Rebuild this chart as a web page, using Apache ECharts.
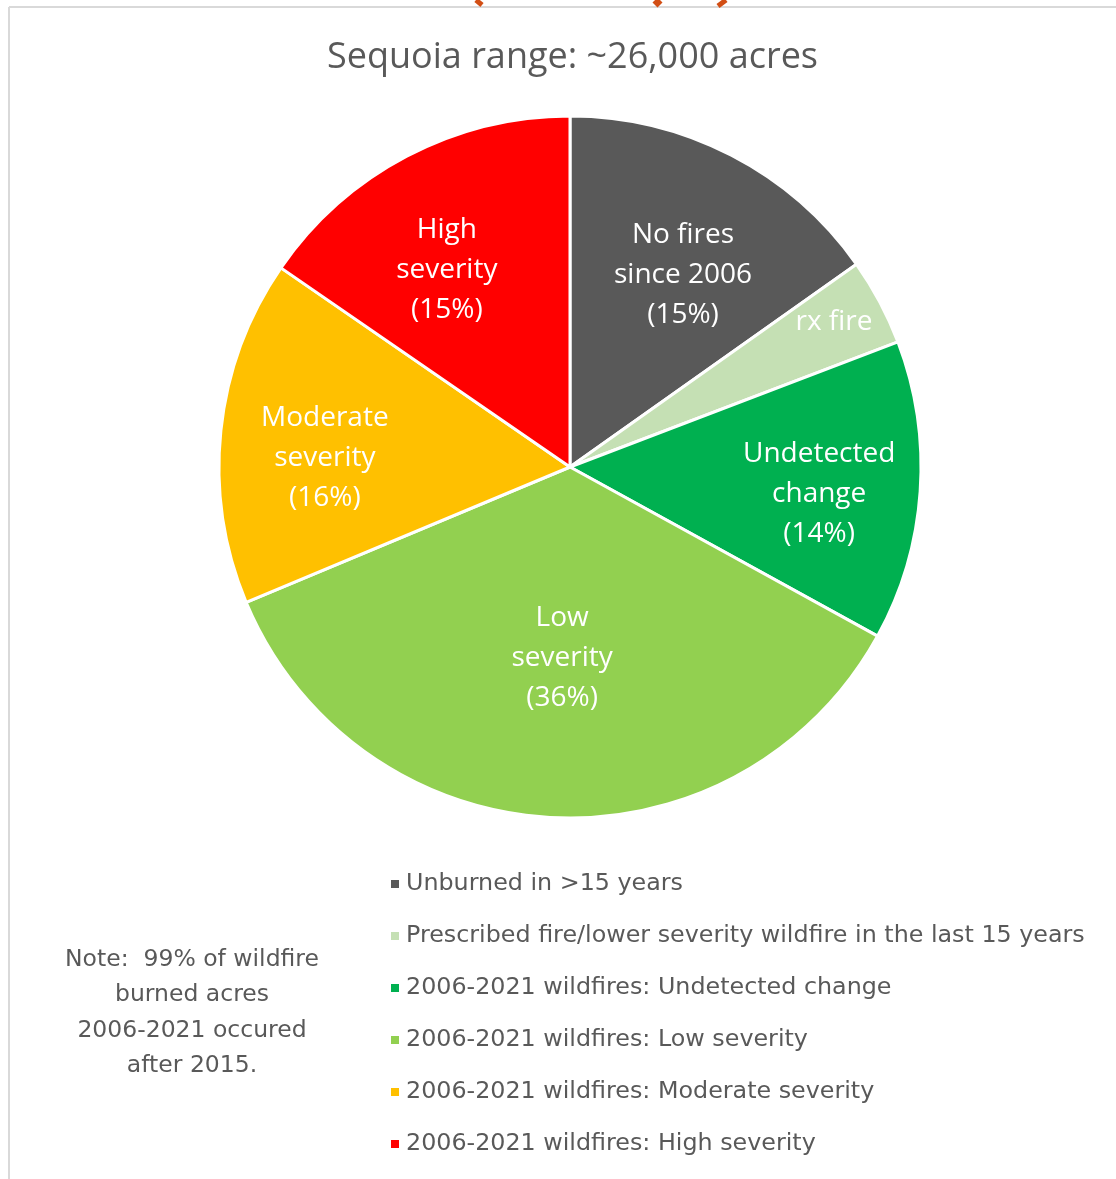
<!DOCTYPE html>
<html><head><meta charset="utf-8">
<script src="https://cdn.jsdelivr.net/npm/echarts@6/dist/echarts.min.js"></script>
<style>html,body{margin:0;padding:0;background:#fff}#c{width:1116px;height:1179px}</style>
</head><body><div id="c"></div>
<script>
// ---- data ----
const categories = [
  'Unburned in >15 years',
  'Prescribed fire/lower severity wildfire in the last 15 years',
  '2006-2021 wildfires: Undetected change',
  '2006-2021 wildfires: Low severity',
  '2006-2021 wildfires: Moderate severity',
  '2006-2021 wildfires: High severity'
];
const sliceLabels = ['No fires\nsince 2006', 'rx fire', 'Undetected\nchange', 'Low\nseverity', 'Moderate\nseverity', 'High\nseverity'];
const showPercent = [true, false, true, true, true, true];
const values = [15.2, 4.0, 13.8, 35.7, 15.9, 15.4];
const titleText = 'Sequoia range: ~26,000 acres';
const noteText = 'Note:  99% of wildfire\nburned acres\n2006-2021 occured\nafter 2015.';

// ---- styles ----
const colors = ['#595959', '#c5e0b4', '#00b050', '#92d050', '#ffc000', '#ff0000'];
const labelRadiusFactor = [0.635, 0.858, 0.714, 0.545, 0.699, 0.662];
const labelAngleShiftDeg = [3.1, -0.7, 2.2, -0.7, -3.8, -4.3];
const CX = 570, CY = 467, R = 351;
const FONT = '"Open Sans", Lato, sans-serif';
const SMALL_FONT = '"DejaVu Sans", "Open Sans", sans-serif';

const total = values.reduce((a, b) => a + b, 0);
function midAngle(i) {
  let s = 0;
  for (let k = 0; k < i; k++) s += values[k];
  return ((s + values[i] / 2) / total) * Math.PI * 2 + labelAngleShiftDeg[i] * Math.PI / 180;
}

const chart = echarts.init(document.getElementById('c'), null, {renderer: 'canvas'});
chart.setOption({
  animation: false,
  backgroundColor: '#fff',
  title: {
    text: titleText, left: 322, top: 35,
    textStyle: {fontFamily: FONT, fontSize: 36, fontWeight: 'normal', color: '#595959'}
  },
  legend: {
    orient: 'vertical', left: 384, top: 867, itemGap: 28,
    itemWidth: 10, itemHeight: 10, icon: 'rect',
    textStyle: {fontFamily: SMALL_FONT, fontSize: 23.8, color: '#595959', padding: [0, 0, 0, 1]},
    data: categories
  },
  graphic: [
    {type: 'line', shape: {x1: 9, y1: 7, x2: 1120, y2: 7}, style: {stroke: '#d9d9d9', lineWidth: 2}, silent: true},
    {type: 'line', shape: {x1: 9, y1: 7, x2: 9, y2: 1185}, style: {stroke: '#d9d9d9', lineWidth: 2}, silent: true},
    {type: 'line', shape: {x1: 476, y1: 0, x2: 482, y2: 5}, style: {stroke: '#d24e14', lineWidth: 5}, silent: true},
    {type: 'line', shape: {x1: 660, y1: 0, x2: 655, y2: 5}, style: {stroke: '#d24e14', lineWidth: 7}, silent: true},
    {type: 'line', shape: {x1: 726, y1: 0, x2: 718, y2: 6}, style: {stroke: '#d24e14', lineWidth: 5}, silent: true},
    {
      type: 'text', x: 192, y: 942,
      style: {
        text: noteText, fontFamily: SMALL_FONT, fontSize: 23.5, lineHeight: 35.5,
        fill: '#595959', align: 'center', verticalAlign: 'top'
      }
    }
  ],
  series: [{
    type: 'pie',
    center: [CX, CY],
    radius: [0, R],
    startAngle: 90,
    clockwise: true,
    avoidLabelOverlap: false,
    itemStyle: {borderColor: '#fff', borderWidth: 3},
    emphasis: {disabled: true},
    label: {
      show: true, position: 'inside',
      fontFamily: FONT, fontSize: 28, lineHeight: 40, color: '#fff',
      align: 'center', verticalAlign: 'middle',
      formatter: p => sliceLabels[p.dataIndex] + (showPercent[p.dataIndex] ? '\n(' + Math.round(p.percent) + '%)' : '')
    },
    labelLine: {show: false},
    labelLayout: function (p) {
      const i = p.dataIndex;
      const a = midAngle(i);
      const k = labelRadiusFactor[i] * R;
      return {x: CX + k * Math.sin(a), y: CY - k * Math.cos(a), align: 'center', verticalAlign: 'middle'};
    },
    data: categories.map((c, i) => ({name: c, value: values[i], itemStyle: {color: colors[i]}}))
  }]
});
</script></body></html>
